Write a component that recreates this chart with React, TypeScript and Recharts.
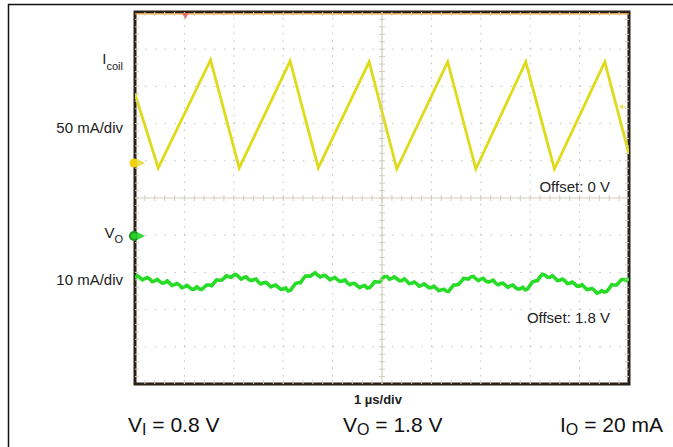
import React from 'react';
import { ComposedChart, Line, XAxis, YAxis, ReferenceLine, ReferenceDot, ReferenceArea, Scatter } from 'recharts';

// time in divisions (1 µs/div), amplitude in divisions
const coilT = [0, 0.47, 1.53, 2.11, 3.14, 3.71, 4.74, 5.3, 6.33, 6.9, 7.91, 8.49, 9.51, 10];
const coilI = [7.8, 5.81, 8.71, 5.81, 8.68, 5.81, 8.66, 5.78, 8.66, 5.78, 8.66, 5.78, 8.66, 6.18];

const voT = [
  0, 0.05, 0.1, 0.15, 0.2, 0.25, 0.3, 0.35, 0.4, 0.45, 0.5, 0.55, 0.6, 0.65, 0.7, 0.75, 0.8, 0.85, 0.9, 0.95,
  1, 1.05, 1.1, 1.15, 1.2, 1.25, 1.3, 1.35, 1.4, 1.45, 1.5, 1.55, 1.6, 1.65, 1.7, 1.75, 1.8, 1.85, 1.9, 1.95,
  2, 2.05, 2.1, 2.15, 2.2, 2.25, 2.3, 2.35, 2.4, 2.45, 2.5, 2.55, 2.6, 2.65, 2.7, 2.75, 2.8, 2.85, 2.9, 2.95,
  3, 3.05, 3.1, 3.15, 3.2, 3.25, 3.3, 3.35, 3.4, 3.45, 3.5, 3.55, 3.6, 3.65, 3.7, 3.75, 3.8, 3.85, 3.9, 3.95,
  4, 4.05, 4.1, 4.15, 4.2, 4.25, 4.3, 4.35, 4.4, 4.45, 4.5, 4.55, 4.6, 4.65, 4.7, 4.75, 4.8, 4.85, 4.9, 4.95,
  5, 5.05, 5.1, 5.15, 5.2, 5.25, 5.3, 5.35, 5.4, 5.45, 5.5, 5.55, 5.6, 5.65, 5.7, 5.75, 5.8, 5.85, 5.9, 5.95,
  6, 6.05, 6.1, 6.15, 6.2, 6.25, 6.3, 6.35, 6.4, 6.45, 6.5, 6.55, 6.6, 6.65, 6.7, 6.75, 6.8, 6.85, 6.9, 6.95,
  7, 7.05, 7.1, 7.15, 7.2, 7.25, 7.3, 7.35, 7.4, 7.45, 7.5, 7.55, 7.6, 7.65, 7.7, 7.75, 7.8, 7.85, 7.9, 7.95,
  8, 8.05, 8.1, 8.15, 8.2, 8.25, 8.3, 8.35, 8.4, 8.45, 8.5, 8.55, 8.6, 8.65, 8.7, 8.75, 8.8, 8.85, 8.9, 8.95,
  9, 9.05, 9.1, 9.15, 9.2, 9.25, 9.3, 9.35, 9.4, 9.45, 9.5, 9.55, 9.6, 9.65, 9.7, 9.75, 9.8, 9.85, 9.9, 9.95,
  10,
];
const voV = [
  2.85, 2.91, 2.86, 2.8, 2.83, 2.86, 2.82, 2.75, 2.77, 2.81, 2.76, 2.71, 2.72, 2.77, 2.71, 2.65, 2.67, 2.7, 2.66, 2.59,
  2.61, 2.65, 2.6, 2.55, 2.55, 2.61, 2.56, 2.54, 2.6, 2.66, 2.66, 2.64, 2.72, 2.8, 2.79, 2.79, 2.84, 2.91, 2.88, 2.87,
  2.93, 2.94, 2.88, 2.82, 2.86, 2.88, 2.81, 2.78, 2.8, 2.82, 2.74, 2.69, 2.72, 2.73, 2.68, 2.61, 2.64, 2.66, 2.6, 2.55,
  2.55, 2.58, 2.5, 2.52, 2.62, 2.7, 2.72, 2.72, 2.82, 2.9, 2.9, 2.9, 2.95, 2.99, 2.92, 2.88, 2.91, 2.92, 2.86, 2.8,
  2.84, 2.86, 2.8, 2.76, 2.77, 2.8, 2.72, 2.67, 2.7, 2.7, 2.64, 2.59, 2.63, 2.65, 2.58, 2.59, 2.66, 2.75, 2.74, 2.74,
  2.82, 2.89, 2.89, 2.82, 2.84, 2.88, 2.83, 2.78, 2.78, 2.83, 2.77, 2.7, 2.71, 2.74, 2.7, 2.63, 2.65, 2.69, 2.64, 2.59,
  2.59, 2.63, 2.57, 2.51, 2.53, 2.55, 2.5, 2.49, 2.58, 2.66, 2.66, 2.68, 2.75, 2.84, 2.83, 2.82, 2.88, 2.89, 2.83, 2.78,
  2.82, 2.84, 2.77, 2.74, 2.76, 2.79, 2.71, 2.67, 2.7, 2.71, 2.65, 2.6, 2.64, 2.66, 2.59, 2.55, 2.56, 2.6, 2.53, 2.56,
  2.66, 2.75, 2.77, 2.78, 2.88, 2.95, 2.93, 2.87, 2.87, 2.91, 2.85, 2.78, 2.79, 2.82, 2.78, 2.7, 2.71, 2.74, 2.69, 2.63,
  2.63, 2.67, 2.6, 2.54, 2.55, 2.57, 2.52, 2.44, 2.46, 2.51, 2.47, 2.49, 2.57, 2.67, 2.66, 2.66, 2.74, 2.81, 2.81, 2.78,
  2.85,
];

const gridX = [1, 2, 3, 4, 6, 7, 8, 9];
const gridY = [1, 2, 3, 4, 6, 7, 8, 9];
const minor = [
  0.2, 0.4, 0.6, 0.8, 1, 1.2, 1.4, 1.6, 1.8, 2, 2.2, 2.4, 2.6, 2.8, 3, 3.2, 3.4, 3.6, 3.8, 4,
  4.2, 4.4, 4.6, 4.8, 5, 5.2, 5.4, 5.6, 5.8, 6, 6.2, 6.4, 6.6, 6.8, 7, 7.2, 7.4, 7.6, 7.8, 8,
  8.2, 8.4, 8.6, 8.8, 9, 9.2, 9.4, 9.6, 9.8,
];

const coilData = coilT.map((t, i) => ({ x: t, y: coilI[i] }));
const voData = voT.map((t, i) => ({ x: t, y: voV[i] }));
const hCenterTicks = minor.map((m) => ({ x: m, y: 5 }));
const vCenterTicks = minor.map((m) => ({ x: 5, y: m }));
const topTicks = minor.map((m) => ({ x: m, y: 10 }));
const bottomTicks = minor.map((m) => ({ x: m, y: 0 }));
const leftTicks = minor.map((m) => ({ x: 0, y: m }));
const rightTicks = minor.map((m) => ({ x: 10, y: m }));

const YELLOW = '#e0db1a';
const GREEN = '#26dc26';
const GRID = '#bfbfbf';
const CENTER = '#d2cdbb';
const FRAME = '#2a2118';
const FONT = '"Liberation Sans", Arial, sans-serif';

const tick = (dx1: number, dy1: number, dx2: number, dy2: number, color: string) => (p: any) => (
  <line x1={p.cx + dx1} y1={p.cy + dy1} x2={p.cx + dx2} y2={p.cy + dy2} stroke={color} strokeWidth={1} />
);

const yellowMarker = (p: any) => (
  <g>
    <circle cx={p.cx - 1} cy={p.cy} r={4.5} fill="#f2d20e" />
    <path d={`M ${p.cx + 2} ${p.cy - 4} L ${p.cx + 10} ${p.cy} L ${p.cx + 2} ${p.cy + 4} Z`} fill="#e8e050" />
  </g>
);
const greenMarker = (p: any) => (
  <g>
    <circle cx={p.cx - 1} cy={p.cy} r={5} fill="#1a9a1a" />
    <circle cx={p.cx - 1} cy={p.cy} r={3} fill="#2ccf2c" />
    <path d={`M ${p.cx + 2} ${p.cy - 4} L ${p.cx + 10} ${p.cy} L ${p.cx + 2} ${p.cy + 4} Z`} fill="#3ad83a" />
  </g>
);
const redMarker = (p: any) => (
  <path d={`M ${p.cx - 3.5} ${p.cy + 1} L ${p.cx + 3.5} ${p.cy + 1} L ${p.cx} ${p.cy + 7} Z`} fill="#e8705c" />
);
const trigMarker = (p: any) => (
  <g>
    <path d={`M ${p.cx - 3} ${p.cy} L ${p.cx + 1} ${p.cy - 2.5} L ${p.cx + 1} ${p.cy + 2.5} Z`} fill="#e8e050" />
    <line x1={p.cx + 1} y1={p.cy} x2={p.cx + 4} y2={p.cy} stroke="#e8e050" strokeWidth={1} />
  </g>
);

export default function App() {
  return (
    <div style={{ position: 'absolute', left: 0, top: 0, width: 673, height: 447, background: '#fff' }}>
      <ComposedChart width={673} height={447} margin={{ top: 12, right: 44, bottom: 63, left: 135 }}>
        <XAxis type="number" dataKey="x" domain={[0, 10]} hide allowDataOverflow />
        <YAxis type="number" dataKey="y" domain={[0, 10]} hide allowDataOverflow />
        {gridY.map((g) => (
          <ReferenceLine key={'gy' + g} y={g} stroke={GRID} strokeWidth={1} strokeDasharray="1.5 8.38" />
        ))}
        {gridX.map((g) => (
          <ReferenceLine key={'gx' + g} x={g} stroke={GRID} strokeWidth={1} strokeDasharray="1.5 5.94" />
        ))}
        <ReferenceLine y={5} stroke={CENTER} strokeWidth={1.2} />
        <ReferenceLine x={5} stroke={CENTER} strokeWidth={1.2} />
        <Scatter data={hCenterTicks} dataKey="y" isAnimationActive={false} shape={tick(0, -3, 0, 3, CENTER)} />
        <Scatter data={vCenterTicks} dataKey="y" isAnimationActive={false} shape={tick(-3, 0, 3, 0, CENTER)} />
        <Scatter data={topTicks} dataKey="y" isAnimationActive={false} shape={tick(0, 0, 0, 4, CENTER)} />
        <Scatter data={bottomTicks} dataKey="y" isAnimationActive={false} shape={tick(0, -4, 0, 0, CENTER)} />
        <Scatter data={leftTicks} dataKey="y" isAnimationActive={false} shape={tick(0, 0, 4, 0, CENTER)} />
        <Scatter data={rightTicks} dataKey="y" isAnimationActive={false} shape={tick(-4, 0, 0, 0, CENTER)} />
        <Line data={voData} dataKey="y" type="linear" stroke={GREEN} strokeWidth={3.6} dot={false} isAnimationActive={false} />
        <Line data={coilData} dataKey="y" type="linear" stroke={YELLOW} strokeWidth={2.8} dot={false} isAnimationActive={false} />
        <ReferenceLine y={9.95} stroke="#f0a040" strokeWidth={1.2} />
        <ReferenceArea x1={0} x2={10} y1={0} y2={10} fill="none" stroke={FRAME} strokeWidth={3} />
        <ReferenceDot x={0} y={5.94} shape={yellowMarker} />
        <ReferenceDot x={0} y={3.98} shape={greenMarker} />
        <ReferenceDot x={1.02} y={10} shape={redMarker} />
        <ReferenceDot x={9.86} y={7.45} shape={trigMarker} />
      </ComposedChart>
      <svg width={673} height={447} style={{ position: 'absolute', left: 0, top: 0, pointerEvents: 'none' }} fontFamily={FONT}>
        <line x1={8} y1={4.5} x2={673} y2={4.5} stroke="#111" strokeWidth={1.5} />
        <line x1={8.5} y1={4} x2={8.5} y2={447} stroke="#111" strokeWidth={1.5} />
        <text x={123} y={64} fontSize={15} fill="#222" textAnchor="end">
          I<tspan fontSize={11} dy={6}>coil</tspan>
        </text>
        <text x={123} y={133} fontSize={15} fill="#222" textAnchor="end">50 mA/div</text>
        <text x={123} y={238} fontSize={15} fill="#222" textAnchor="end">
          V<tspan fontSize={11} dy={5}>O</tspan>
        </text>
        <text x={123} y={285} fontSize={15} fill="#222" textAnchor="end">10 mA/div</text>
        <text x={610} y={192} fontSize={15} fill="#222" textAnchor="end">Offset: 0 V</text>
        <text x={610} y={323} fontSize={15} fill="#222" textAnchor="end">Offset: 1.8 V</text>
        <text x={354} y={404} fontSize={13} fontWeight="bold" fill="#222">1 µs/div</text>
        <text x={128} y={432} fontSize={21} fill="#111">
          V<tspan fontSize={16} dy={3}>I</tspan><tspan dy={-3}> = 0.8 V</tspan>
        </text>
        <text x={343} y={432} fontSize={21} fill="#111">
          V<tspan fontSize={16} dy={3}>O</tspan><tspan dy={-3}> = 1.8 V</tspan>
        </text>
        <text x={560} y={432} fontSize={21} fill="#111">
          I<tspan fontSize={16} dy={3}>O</tspan><tspan dy={-3}> = 20 mA</tspan>
        </text>
      </svg>
    </div>
  );
}
